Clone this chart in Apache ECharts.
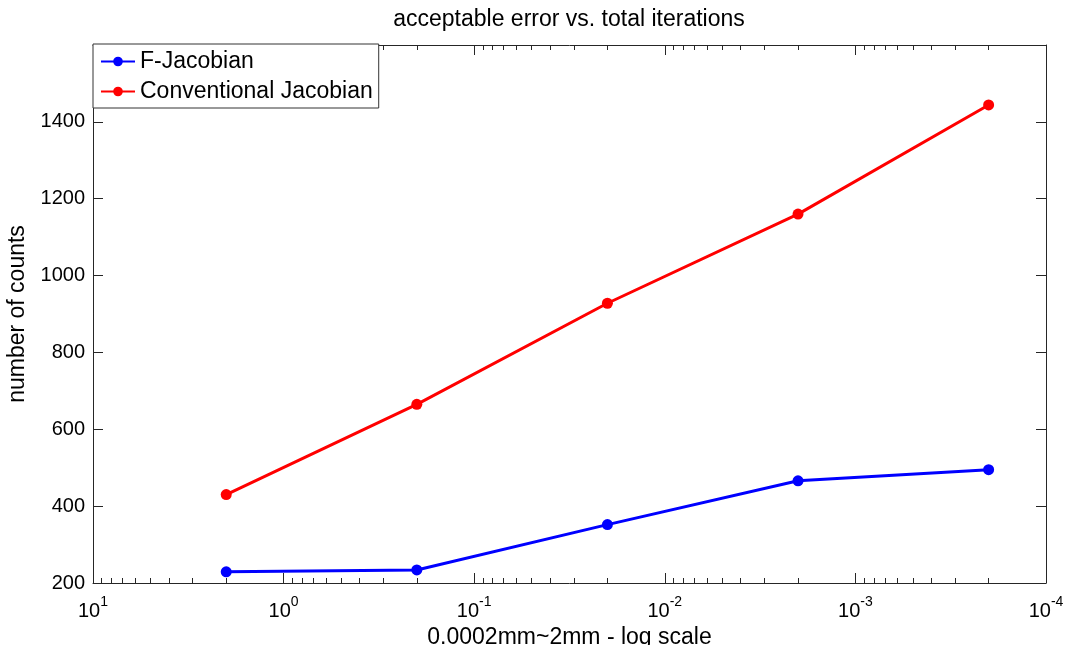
<!DOCTYPE html>
<html><head><meta charset="utf-8">
<script src="https://cdn.jsdelivr.net/npm/echarts@6/dist/echarts.min.js"></script>
<style>html,body{margin:0;padding:0;background:#fff}#c{width:1068px;height:645px}</style>
</head><body><div id="c"></div>
<script>
// ---- data ----
const titleText = 'acceptable error vs. total iterations';
const xName = '0.0002mm~2mm - log scale';
const yName = 'number of counts';
const seriesNames = ['F-Jacobian', 'Conventional Jacobian'];
const xValues = [2, 0.2, 0.02, 0.002, 0.0002];
const fJacobian = [229, 234, 352, 466, 495];
const convJacobian = [430, 665, 928, 1160, 1444];
const xMajorTicks = [10, 1, 0.1, 0.01, 0.001, 0.0001];
const xMajorExponents = ['1', '0', '-1', '-2', '-3', '-4'];
const minorMantissas = [2, 3, 4, 5, 6, 7, 8, 9];
const minorDecades = [1, 0.1, 0.01, 0.001, 0.0001];
const yMin = 200, yMax = 1600, yStep = 200;

// ---- build ----
const xMinorTicks = [];
minorDecades.forEach(d => minorMantissas.forEach(m => xMinorTicks.push(Number((m * d).toPrecision(6)))));
const FONT = '"Liberation Sans", Arial, sans-serif';
const AX = '#262626';
const colors = ['#0000ff', '#ff0000'];

function expFor(v) {
  let best = 0, bd = Infinity;
  xMajorTicks.forEach((t, i) => { const d = Math.abs(Math.log10(t) - Math.log10(v)); if (d < bd) { bd = d; best = i; } });
  return xMajorExponents[best];
}

function logX(pos, ticks, len, withLine, withLabel, extra) {
  return Object.assign({
    type: 'log', logBase: 10, min: 0.0001, max: 10, inverse: true, position: pos,
    axisLine: { show: withLine, onZero: false, lineStyle: { color: AX, width: 1 } },
    axisTick: { show: true, inside: true, length: len, customValues: ticks, lineStyle: { color: AX, width: 1 } },
    axisLabel: withLabel ? {
      show: true, customValues: xMajorTicks, margin: 12,
      formatter: v => '{b|10}{s|' + expFor(v) + '}',
      rich: {
        b: { fontSize: 20, fontFamily: FONT, color: '#000', lineHeight: 26, verticalAlign: 'bottom' },
        s: { fontSize: 14, fontFamily: FONT, color: '#000', lineHeight: 26, verticalAlign: 'top' }
      }
    } : { show: false },
    splitLine: { show: false }, minorTick: { show: false }
  }, extra || {});
}

function valY(pos, withLabel, extra) {
  return Object.assign({
    type: 'value', min: yMin, max: yMax, interval: yStep, position: pos,
    axisLine: { show: true, onZero: false, lineStyle: { color: AX, width: 1 } },
    axisTick: { show: true, inside: true, length: 10, lineStyle: { color: AX, width: 1 } },
    axisLabel: withLabel ? { show: true, fontSize: 20, fontFamily: FONT, color: '#000', margin: 8, showMaxLabel: false, formatter: v => String(v) } : { show: false },
    splitLine: { show: false }
  }, extra || {});
}

const option = {
  backgroundColor: '#fff',
  animation: false,
  title: {
    text: titleText, left: 569, top: 8, textAlign: 'center', padding: 0,
    textStyle: { fontSize: 23, fontWeight: 'normal', fontFamily: FONT, color: '#000' }
  },
  legend: {
    left: 93, top: 44, orient: 'vertical', itemWidth: 34, itemHeight: 12, itemGap: 7,
    padding: [6, 6, 5, 7], borderColor: '#333', borderWidth: 1, backgroundColor: '#fff',
    textStyle: { fontSize: 23, fontFamily: FONT, color: '#000', lineHeight: 23 },
    data: seriesNames
  },
  grid: { left: 93, right: 22, top: 45, bottom: 62, containLabel: false, outerBoundsMode: 'none' },
  xAxis: [
    logX('bottom', xMajorTicks, 10, true, true, {
      name: xName, nameLocation: 'middle', nameGap: 42,
      nameTextStyle: { fontSize: 23, fontFamily: FONT, color: '#000' }
    }),
    logX('bottom', xMinorTicks, 5, false, false),
    logX('top', xMajorTicks, 10, true, false),
    logX('top', xMinorTicks, 5, false, false)
  ],
  yAxis: [
    valY('left', true, {
      name: yName, nameLocation: 'middle', nameGap: 58,
      nameTextStyle: { fontSize: 23, fontFamily: FONT, color: '#000' }
    }),
    valY('right', false)
  ],
  series: [fJacobian, convJacobian].map((vals, i) => ({
    name: seriesNames[i], type: 'line', xAxisIndex: 0, yAxisIndex: 0,
    data: xValues.map((x, j) => [x, vals[j]]),
    symbol: 'circle', symbolSize: 11, showAllSymbol: true,
    lineStyle: { color: colors[i], width: 3 },
    itemStyle: { color: colors[i] }
  }))
};
const chart = echarts.init(document.getElementById('c'));
chart.setOption(option);
</script></body></html>
